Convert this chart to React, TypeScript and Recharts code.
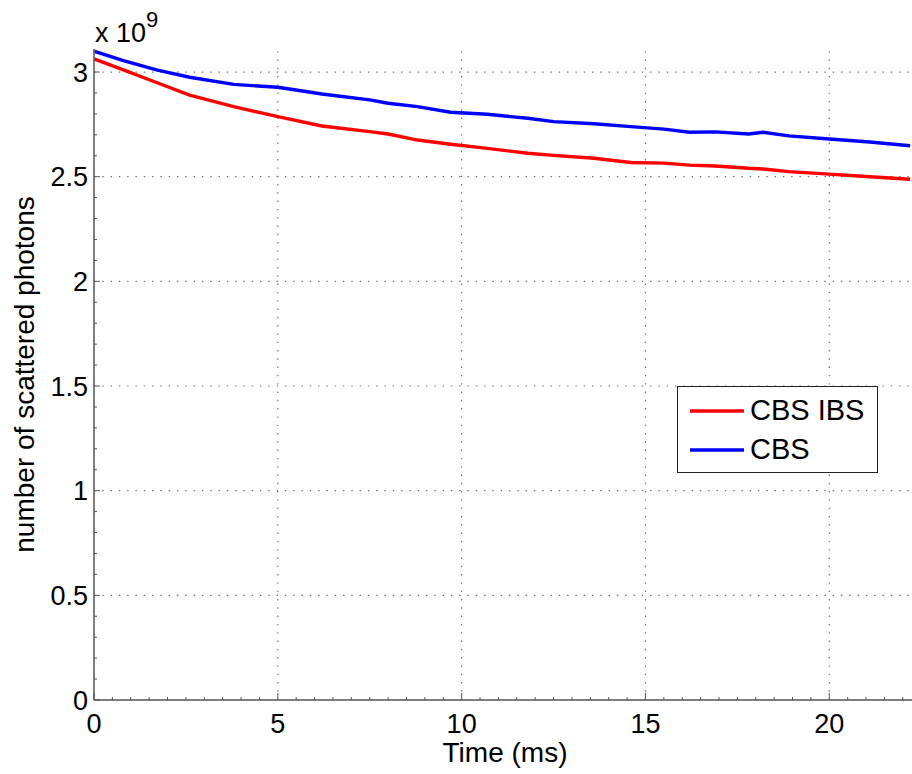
import React from "react";
import { LineChart, Line, XAxis, YAxis, ReferenceLine, Legend, Label } from "recharts";

const timeMs = [0, 0.8, 1.7, 2.6, 3.8, 5.0, 6.2, 7.5, 8.0, 8.8, 9.7, 10.7, 11.8, 12.5, 13.6, 14.6, 15.5, 16.2, 16.9, 17.8, 18.2, 18.9, 20.0, 21.1, 22.2];
const cbsIbs = [3.063, 3.01, 2.95, 2.89, 2.835, 2.787, 2.742, 2.715, 2.704, 2.675, 2.655, 2.635, 2.612, 2.602, 2.588, 2.568, 2.565, 2.555, 2.551, 2.54, 2.537, 2.524, 2.512, 2.5, 2.488];
const cbs = [3.1, 3.054, 3.01, 2.975, 2.941, 2.927, 2.895, 2.867, 2.851, 2.835, 2.808, 2.798, 2.779, 2.763, 2.753, 2.739, 2.727, 2.712, 2.714, 2.704, 2.712, 2.695, 2.68, 2.666, 2.648];

const xMajorTicks = [0, 5, 10, 15, 20];
const yMajorTicks = [0, 0.5, 1, 1.5, 2, 2.5, 3];
const xMinorTicks = Array.from({ length: 45 }, (_, i) => i * 0.5);
const yMinorTicks = Array.from({ length: 32 }, (_, i) => Math.round(i) / 10);

const data = timeMs.map((t, i) => ({ t, cbsIbs: cbsIbs[i], cbs: cbs[i] }));

const FONT = '"Liberation Sans", Arial, Helvetica, sans-serif';
const AXIS = "#555";
const GRID = "#707070";

const isMajor = (v: number, list: number[]) => list.some((m) => Math.abs(m - v) < 1e-6);

const YTick = (props: any) => {
  const { x, y, payload } = props;
  const v = payload.value as number;
  const major = isMajor(v, yMajorTicks);
  return (
    <g>
      <line x1={x} y1={y} x2={x + (major ? 6 : 3)} y2={y} stroke={AXIS} strokeWidth={1} />
      {major && (
        <text x={x - 6} y={y} dy="0.36em" textAnchor="end" fontFamily={FONT} fontSize={27} fill="#000">
          {String(v)}
        </text>
      )}
    </g>
  );
};

const XTick = (props: any) => {
  const { x, y, payload } = props;
  const v = payload.value as number;
  const major = isMajor(v, xMajorTicks);
  return (
    <g>
      <line x1={x} y1={y} x2={x} y2={y - (major ? 7 : 3)} stroke={AXIS} strokeWidth={1} />
      {major && (
        <text x={x} y={y + 33} textAnchor="middle" fontFamily={FONT} fontSize={27} fill="#000">
          {String(v)}
        </text>
      )}
    </g>
  );
};

const LegendBox = () => (
  <div
    style={{
      width: 201,
      height: 87,
      boxSizing: "border-box",
      border: "1.5px solid #222",
      background: "#fff",
      position: "relative",
      fontFamily: FONT,
      fontSize: 29,
      color: "#000",
    }}
  >
    {[
      { name: "CBS IBS", color: "#ff0000", top: 24 },
      { name: "CBS", color: "#0000ff", top: 63 },
    ].map((it) => (
      <div key={it.name} style={{ position: "absolute", left: 0, top: it.top - 20, height: 40, width: "100%" }}>
        <svg width={60} height={40} style={{ position: "absolute", left: 10, top: 0 }}>
          <line x1={2} y1={20} x2={56} y2={20} stroke={it.color} strokeWidth={3.4} />
        </svg>
        <span style={{ position: "absolute", left: 72, top: 20, transform: "translateY(-52%)", lineHeight: 1, whiteSpace: "nowrap" }}>
          {it.name}
        </span>
      </div>
    ))}
  </div>
);

export default function App() {
  return (
    <div style={{ position: "absolute", left: 0, top: 0, width: 912, height: 774, background: "#fff" }}>
      <LineChart width={912} height={774} data={data} margin={{ top: 49, right: 0, bottom: 0, left: 0 }}>
        <XAxis
          dataKey="t"
          type="number"
          domain={[0, 22.25]}
          allowDataOverflow
          ticks={xMinorTicks}
          interval={0}
          tickSize={0}
          tickMargin={0}
          tickLine={false}
          tick={<XTick />}
          axisLine={{ stroke: AXIS, strokeWidth: 1.5 }}
          height={74}
        >
          <Label
            content={(p: any) => {
              const vb = p.viewBox || { x: 94, y: 700, width: 818 };
              return (
                <text x={vb.x + vb.width / 2 + 2} y={vb.y + 62} textAnchor="middle" fontFamily={FONT} fontSize={28} fill="#000">
                  Time (ms)
                </text>
              );
            }}
          />
        </XAxis>
        <YAxis
          type="number"
          domain={[0, 3.11]}
          allowDataOverflow
          ticks={yMinorTicks}
          interval={0}
          tickSize={0}
          tickMargin={0}
          tickLine={false}
          tick={<YTick />}
          axisLine={{ stroke: AXIS, strokeWidth: 1.5 }}
          width={94}
        >
          <Label
            content={(p: any) => {
              const vb = p.viewBox || { x: 0, y: 49, width: 94, height: 651 };
              const cx = vb.x + 24;
              const cy = vb.y + vb.height / 2;
              return (
                <text
                  x={cx}
                  y={cy}
                  textAnchor="middle"
                  dy="0.35em"
                  transform={`rotate(-90, ${cx}, ${cy})`}
                  fontFamily={FONT}
                  fontSize={28}
                  fill="#000"
                >
                  number of scattered photons
                </text>
              );
            }}
          />
          <Label
            content={(p: any) => {
              const vb = p.viewBox || { x: 0, y: 49, width: 94, height: 651 };
              return (
                <text x={vb.x + vb.width + 1} y={vb.y - 7} fontFamily={FONT} fontSize={27} fill="#000">
                  x 10
                  <tspan dy={-15} fontSize={22}>9</tspan>
                </text>
              );
            }}
          />
        </YAxis>
        {xMajorTicks.filter((v) => v > 0).map((v) => (
          <ReferenceLine key={`gx${v}`} x={v} stroke={GRID} strokeWidth={1.2} strokeDasharray="1.4 6.9" />
        ))}
        {yMajorTicks.filter((v) => v > 0).map((v) => (
          <ReferenceLine key={`gy${v}`} y={v} stroke={GRID} strokeWidth={1.2} strokeDasharray="1.4 6.9" />
        ))}
        <Line type="linear" dataKey="cbsIbs" name="CBS IBS" stroke="#ff0000" strokeWidth={3.4} dot={false} isAnimationActive={false} />
        <Line type="linear" dataKey="cbs" name="CBS" stroke="#0000ff" strokeWidth={3.4} dot={false} isAnimationActive={false} />
        <Legend
          layout="horizontal"
          verticalAlign="middle"
          align="center"
          content={() => <LegendBox />}
          wrapperStyle={{ position: "absolute", left: 677, top: 386, width: 201, height: 87 }}
        />
      </LineChart>
    </div>
  );
}
